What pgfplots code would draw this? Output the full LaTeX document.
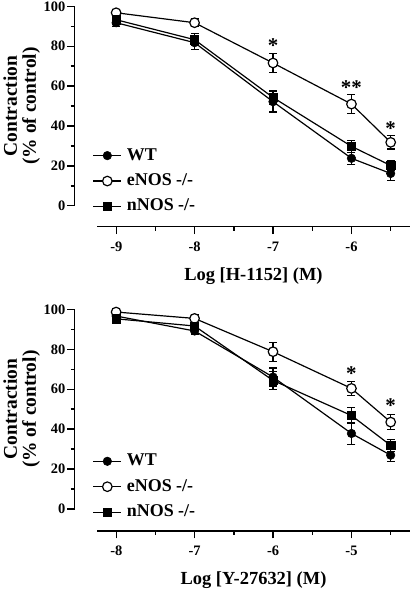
\documentclass[border=0pt]{standalone}
\usepackage{pgfplots}
\pgfplotsset{compat=1.18}
\usepackage{fontspec}
\setmainfont{Liberation Serif}
\tikzset{sigstar/.style={font=\fontsize{21}{21}\selectfont\bfseries, inner sep=0pt}}
\pgfplotsset{
  yaxisstyle/.style={
    scale only axis, width=336pt, height=200pt,
    ymin=0, ymax=100, clip=false,
    axis y line=left, axis x line=none, axis line style={-, line width=1.6pt},
    ytick={0,20,...,100}, minor ytick={10,30,...,90},
    tick align=outside, major tick length=7.5pt, minor tick length=4pt,
    every tick/.style={line width=1.4pt, black},
    yticklabel style={font=\fontsize{14.5}{15}\selectfont\bfseries, inner sep=1.5pt},
    /pgf/number format/assume math mode=true,
    ylabel style={font=\fontsize{19.5}{19}\selectfont\bfseries, align=center,
      at={(axis description cs:-0.158,0.5)}, anchor=center},
    legend cell align=left,
    legend style={draw=none, fill=none, inner sep=0pt, row sep=8.5pt,
      font=\fontsize{18}{18}\selectfont\bfseries,
      nodes={inner sep=0pt, text height=13pt, text depth=4pt}},
    legend image code/.code={\draw[mark repeat=2,mark phase=2,#1] plot coordinates {(0pt,0pt) (14pt,0pt) (28pt,0pt)}; \path (33pt,0pt);},
    error bars/y dir=both, error bars/y explicit,
    error bars/error bar style={line width=1.2pt, black},
    error bars/error mark options={rotate=90, mark size=4pt, line width=1.2pt, black},
  },
  xaxisstyle/.style={
    scale only axis, width=313pt, height=10pt, ymin=0, ymax=1,
    axis x line=bottom, axis y line=none, axis line style={-, line width=1.6pt},
    tick align=outside, major tick length=7.5pt, minor tick length=4pt,
    every tick/.style={line width=1.4pt, black},
    ytick=\empty,
    xticklabel style={font=\fontsize{14.5}{15}\selectfont\bfseries, yshift=-4pt},
    xlabel style={font=\fontsize{18.5}{19}\selectfont\bfseries,
      at={(axis description cs:0.5,0)}, anchor=base, yshift=-54pt},
  },
  wt/.style={black, line width=1.2pt, mark=*, mark size=4.3pt, mark options={fill=black, draw=black, line width=0.5pt}},
  enos/.style={black, line width=1.2pt, mark=*, mark size=4.8pt, mark options={fill=white, draw=black, line width=1.2pt}},
  nnos/.style={black, line width=1.2pt, mark=square*, mark size=4.2pt, mark options={fill=black, draw=black, line width=0.5pt}},
}
\begin{document}
\begin{tikzpicture}
% ---------- Top panel: H-1152 ----------
\begin{axis}[yaxisstyle, xmin=-9.53, xmax=-5.26,
  ylabel={Contraction\\(\% of control)},
  legend style={at={(axis cs:-9.30,29.5)}, anchor=north west}]
\addplot[wt] coordinates {(-9,91.8) +- (0,2) (-8,81.8) +- (0,3.6) (-7,52.2) +- (0,5.2) (-6,23.8) +- (0,3) (-5.5,16.2) +- (0,3.5)};
\addlegendentry{WT}
\addplot[enos] coordinates {(-9,96.8) +- (0,1) (-8,91.8) +- (0,2) (-7,71.6) +- (0,4.8) (-6,51.0) +- (0,4.6) (-5.5,31.8) +- (0,3.3)};
\addlegendentry{eNOS -/-}
\addplot[nnos] coordinates {(-9,93.3) +- (0,2) (-8,83.3) +- (0,3) (-7,54.3) +- (0,3.4) (-6,29.8) +- (0,3) (-5.5,20.2) +- (0,2.5)};
\addlegendentry{nNOS -/-}
\node[sigstar] at (axis cs:-7,80.5) {*};
\node[sigstar] at (axis cs:-6,59.3) {**};
\node[sigstar] at (axis cs:-5.5,38.5) {*};
\end{axis}
\begin{axis}[xaxisstyle, at={(23pt,-21pt)}, anchor=south west,
  xmin=-9.24, xmax=-5.26,
  xtick={-9,-8,-7,-6}, xticklabels={-9,-8,-7,-6},
  minor xtick={-8.5,-7.5,-6.5,-5.5},
  xlabel={Log [H-1152] (M)}]
\end{axis}
% ---------- Bottom panel: Y-27632 ----------
\begin{axis}[yaxisstyle, at={(0pt,-304pt)}, xmin=-8.53, xmax=-4.26,
  ylabel={Contraction\\(\% of control)},
  legend style={at={(axis cs:-8.30,28.2)}, anchor=north west}]
\addplot[wt] coordinates {(-8,96.7) +- (0,2) (-7,89.2) +- (0,1.5) (-6,66.1) +- (0,4.5) (-5,37.8) +- (0,5.5) (-4.5,26.9) +- (0,3)};
\addlegendentry{WT}
\addplot[enos] coordinates {(-8,98.7) +- (0,1) (-7,95.5) +- (0,2) (-6,78.8) +- (0,4.8) (-5,60.4) +- (0,3.5) (-4.5,43.5) +- (0,3.7)};
\addlegendentry{eNOS -/-}
\addplot[nnos] coordinates {(-8,95.3) +- (0,2) (-7,91.7) +- (0,1.5) (-6,64.4) +- (0,4.5) (-5,46.8) +- (0,4) (-4.5,31.8) +- (0,3)};
\addlegendentry{nNOS -/-}
\node[sigstar] at (axis cs:-5,67.9) {*};
\node[sigstar] at (axis cs:-4.5,51.7) {*};
\end{axis}
\begin{axis}[xaxisstyle, at={(23pt,-326pt)}, anchor=south west,
  xmin=-8.24, xmax=-4.26,
  xtick={-8,-7,-6,-5}, xticklabels={-8,-7,-6,-5},
  minor xtick={-7.5,-6.5,-5.5,-4.5},
  xlabel={Log [Y-27632] (M)}]
\end{axis}
\end{tikzpicture}
\end{document}
